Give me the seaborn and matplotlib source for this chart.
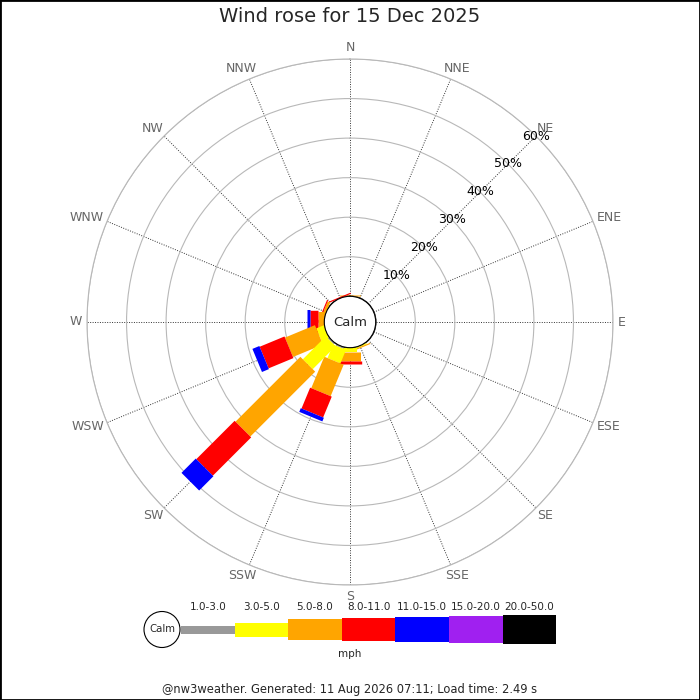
import numpy as np
import matplotlib
matplotlib.use("Agg")
import matplotlib.pyplot as plt
import matplotlib.patches as mpatches
import seaborn as sns

###############################################################################
### Data read off the wind rose (percent of the day per direction and speed)
directions = ['N', 'NNE', 'NE', 'ENE', 'E', 'ESE', 'SE', 'SSE',
              'S', 'SSW', 'SW', 'WSW', 'W', 'WNW', 'NW', 'NNW']
speed_bins = ['1.0-3.0', '3.0-5.0', '5.0-8.0', '8.0-11.0',
              '11.0-15.0', '15.0-20.0', '20.0-50.0']

#            N    NNE  NE   ENE  E    ESE  SE   SSE  S    SSW  SW    WSW  W    WNW  NW   NNW
freq_1_3   = [0,   0,   0,   0,   0,   0,   0,   0,   0,   0.4, 0.4,  0,   0,   0,   0,   0]
freq_3_5   = [0,   0,   0,   0,   0,   0,   0,   0.3, 1.1, 3.7, 8.2,  2.0, 0,   0,   0,   0]
freq_5_8   = [0.3, 0,   0,   0,   0,   0,   0,   0.3, 2.3, 8.6, 23.2, 8.2, 1.6, 0.7, 0,   0]
freq_8_11  = [0,   0,   0,   0,   0,   0,   0,   0,   0.8, 5.7, 13.7, 6.8, 2.0, 0.3, 0,   0.3]
freq_11_15 = [0,   0,   0,   0,   0,   0,   0,   0,   0,   1.0, 5.1,  1.9, 0.8, 0,   0,   0]
freq_15_20 = [0] * 16
freq_20_50 = [0] * 16

ring_values = [10, 20, 30, 40, 50, 60]

###############################################################################
### Styling
bin_colors = ['#999999', '#ffff00', '#ffa500', '#ff0000',
              '#0000ff', '#a020f0', '#000000']
bar_px = [8, 14, 21, 23.4, 25, 26.7, 28.3]   # bar thickness per speed class

sns.set_theme(style='white')
plt.rcParams['font.family'] = ['DejaVu Sans']

freqs = [freq_1_3, freq_3_5, freq_5_8, freq_8_11, freq_11_15, freq_15_20, freq_20_50]
theta = np.deg2rad(np.arange(len(directions)) * 22.5)
totals = np.sum(np.array(freqs), axis=0)

fig = plt.figure(figsize=(7, 7), dpi=100)

# polar rose, outer ring radius 263 px centred on (350, 322)
ax = fig.add_axes([87 / 700, (700 - 585) / 700, 526 / 700, 526 / 700],
                  projection='polar')
ax.set_theta_zero_location('N')
ax.set_theta_direction(-1)
ax.set_ylim(0, 60)
ax.set_rorigin(-6.5)
ax.set_axisbelow(True)

ax.set_xticks(theta)
ax.set_xticklabels([])
ax.set_yticks(ring_values)
ax.set_yticklabels([])
ax.tick_params(length=0)
ax.xaxis.grid(True, color='#333333', linestyle=(0, (1, 1.5)), linewidth=0.7)
ax.yaxis.grid(True, color='#b8b8b8', linestyle='-', linewidth=0.8)
ax.spines['polar'].set_color('#b8b8b8')
ax.spines['polar'].set_linewidth(0.8)
ax.spines['inner'].set_visible(False)

# stacked segments, one straight bar per direction; biggest drawn last
rank = np.argsort(np.argsort(totals))
for i, th in enumerate(theta):
    cum = 0.0
    for k, f in enumerate(freqs):
        v = f[i]
        if v > 0:
            ax.plot([th, th], [cum, cum + v], color=bin_colors[k],
                    linewidth=bar_px[k] * 0.72, solid_capstyle='butt',
                    zorder=3 + rank[i] * 0.01)
        cum += v

# direction names just outside the outer ring, pushed outward by half their size
dir_texts = []
for th, name in zip(theta, directions):
    t = ax.text(th, 61.2, name, ha='center', va='center', fontsize=9,
                color='#666666', clip_on=False)
    dir_texts.append((th, t))
for r in ring_values:
    ax.text(np.pi / 4, r, f'{r}%', ha='center', va='center', fontsize=9,
            color='black', zorder=6)

# calm circle
ax.add_patch(mpatches.Circle((0.5, 0.5), 25.7 / 526, transform=ax.transAxes,
                             facecolor='white', edgecolor='black',
                             linewidth=0.8, zorder=10, clip_on=False))
ax.text(0.5, 0.5, 'Calm', transform=ax.transAxes, ha='center', va='center',
        fontsize=9.5, zorder=11)

###############################################################################
### Legend strip
unit = 53.6
ax_leg = fig.add_axes([140 / 700, (700 - 658) / 700, 420 / 700, 60 / 700])
ax_leg.set_xlim(-41 / unit, 379 / unit)
ax_leg.set_ylim(-28.5 / unit, 31.5 / unit)
ax_leg.axis('off')
ax_leg.patch.set_visible(False)
h = np.array(bar_px) / unit
ax_leg.bar(np.arange(len(speed_bins)), h, width=1, bottom=-h / 2,
           align='edge', color=bin_colors, linewidth=0)
for i, lab in enumerate(speed_bins):
    ax_leg.text(i + 0.5, 0.42, lab, ha='center', va='center', fontsize=7.5)
ax_leg.add_patch(mpatches.Circle((-19 / unit, 0), 18 / unit, facecolor='white',
                                 edgecolor='black', linewidth=0.8, zorder=5))
ax_leg.text(-19 / unit, 0, 'Calm', ha='center', va='center', fontsize=7.3, zorder=6)

fig.text(0.5, 1 - 654 / 700, 'mph', ha='center', va='center', fontsize=7.5)
fig.text(0.5, 1 - 17 / 700, 'Wind rose for 15 Dec 2025', ha='center',
         va='center', fontsize=14)
fig.text(0.5, 1 - 690 / 700,
         '@nw3weather. Generated: 11 Aug 2026 07:11; Load time: 2.49 s',
         ha='center', va='center', fontsize=8.3)

fig.patches.append(mpatches.Rectangle((0, 0), 1, 1, transform=fig.transFigure,
                                      fill=False, edgecolor='black', linewidth=2))

# shift direction labels so they sit outside the ring
fig.canvas.draw()
renderer = fig.canvas.get_renderer()
inv = ax.transData.inverted()
for th, t in dir_texts:
    bb = t.get_window_extent(renderer)
    x0, y0 = ax.transData.transform((th, 61.2))
    x1 = x0 + np.sin(th) * bb.width / 2
    y1 = y0 + np.cos(th) * bb.height / 2
    t.set_position(inv.transform((x1, y1)))

fig.savefig('out.png', dpi=100, facecolor='white')
